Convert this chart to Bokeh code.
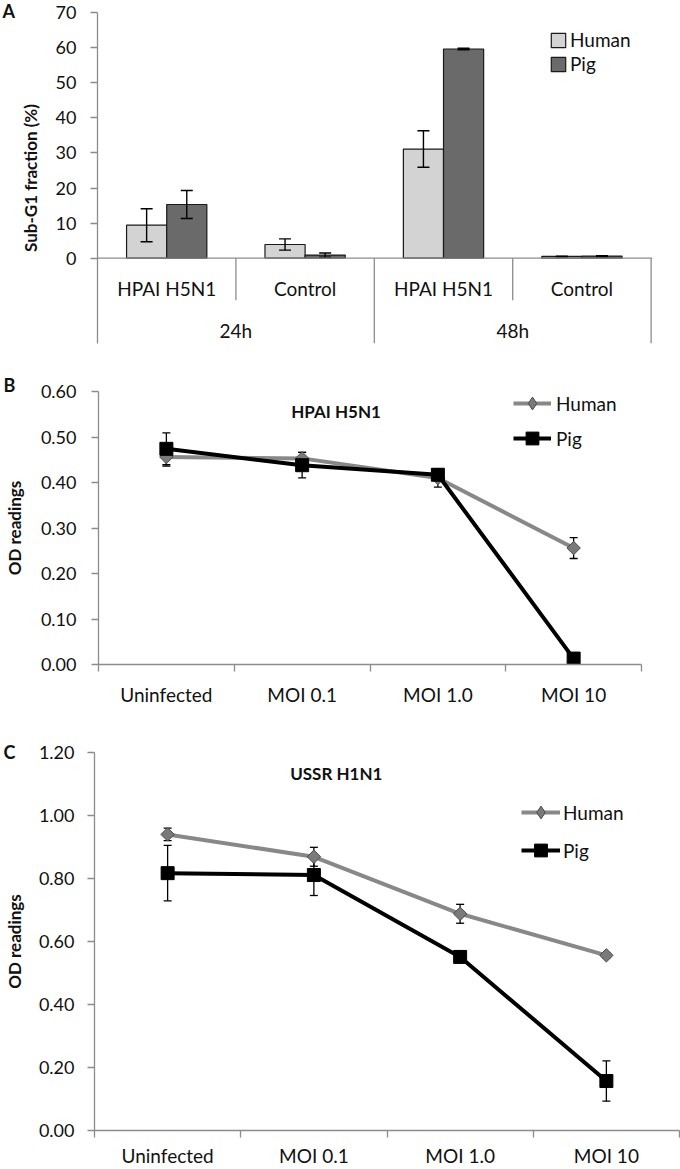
from bokeh.plotting import figure
from bokeh.models import (ColumnDataSource, Range1d, FixedTicker, Whisker, TeeHead, Label,
                          Legend, LegendItem, Span, NumeralTickFormatter)
from bokeh.layouts import column
from bokeh.embed import file_html
from bokeh.resources import INLINE
from bokeh.core.properties import value

FONT = "Lato"
TXT = "#111111"
AX = "#8c8c8c"

# ---------------- data ----------------
# Panel A: Sub-G1 fraction (%)
a_conditions = ["HPAI H5N1", "Control", "HPAI H5N1", "Control"]
a_times = ["24h", "48h"]
a_human = [9.4, 3.9, 31.1, 0.5]
a_human_err = [4.7, 1.6, 5.2, 0.1]
a_pig = [15.3, 0.9, 59.6, 0.6]
a_pig_err = [4.0, 0.6, 0.2, 0.1]
a_yticks = [0, 10, 20, 30, 40, 50, 60, 70]

# Panels B and C: OD readings
moi_labels = ["Uninfected", "MOI 0.1", "MOI 1.0", "MOI 10"]
b_human = [0.456, 0.453, 0.410, 0.256]
b_human_err = [0.020, 0.013, 0.020, 0.023]
b_pig = [0.474, 0.438, 0.417, 0.013]
b_pig_err = [0.035, 0.028, 0.010, 0.004]
b_yticks = [0.0, 0.1, 0.2, 0.3, 0.4, 0.5, 0.6]

c_human = [0.940, 0.869, 0.688, 0.556]
c_human_err = [0.020, 0.030, 0.030, 0.008]
c_pig = [0.817, 0.811, 0.551, 0.157]
c_pig_err = [0.088, 0.065, 0.006, 0.064]
c_yticks = [0.0, 0.2, 0.4, 0.6, 0.8, 1.0, 1.2]

HUMAN_BAR = "#d3d3d3"
PIG_BAR = "#6a6a6a"
HUMAN_LINE = "#888888"
HUMAN_MARK = "#7a7a7a"
PIG_LINE = "#000000"


def style_yaxis(ax, label, standoff_label):
    ax.axis_label = label
    ax.axis_label_text_font = FONT
    ax.axis_label_text_font_size = "17px"
    ax.axis_label_text_font_style = "bold"
    ax.axis_label_text_color = TXT
    ax.axis_label_standoff = standoff_label
    ax.major_label_text_font = FONT
    ax.major_label_text_font_size = "18px"
    ax.major_label_text_color = TXT
    ax.axis_line_color = AX
    ax.axis_line_width = 1.3
    ax.major_tick_line_color = AX
    ax.major_tick_line_width = 1.3
    ax.major_tick_out = 7
    ax.major_tick_in = 0
    ax.minor_tick_out = 0
    ax.minor_tick_in = 0


def base_fig(w, h, xr, yr, left, right, top, bottom, letter, letter_offset, letter_standoff,
             xaxis=True):
    kw = {}
    if not xaxis:
        kw["x_axis_location"] = None
    p = figure(width=w, height=h, x_range=xr, y_range=yr, output_backend="svg",
               toolbar_location=None, title=letter, frame_align=False,
               min_border_left=left, min_border_right=right,
               min_border_top=top, min_border_bottom=bottom, **kw)
    # panel letter as the plot title, pulled to the left edge
    p.title.align = "left"
    p.title.offset = letter_offset
    p.title.standoff = letter_standoff
    p.title.text_font = FONT
    p.title.text_font_size = "18px"
    p.title.text_font_style = "bold"
    p.title.text_color = TXT
    p.outline_line_color = None
    p.grid.visible = False
    p.background_fill_color = "white"
    p.border_fill_color = "white"
    return p


# ---------------- Panel A ----------------
na = len(a_conditions)
a_x = [i + 0.5 for i in range(na)]
bw = 0.29
a_bottom = -24.3
pa = base_fig(680, 369, Range1d(0, 4.01), Range1d(a_bottom, 70), 97, 28, 12, 26,
              "A", -95, -18, xaxis=False)

src_a = ColumnDataSource(dict(
    xh=[x - bw / 2 for x in a_x], xp=[x + bw / 2 for x in a_x],
    human=a_human, pig=a_pig,
    hu=[v + e for v, e in zip(a_human, a_human_err)], hl=[v - e for v, e in zip(a_human, a_human_err)],
    pu=[v + e for v, e in zip(a_pig, a_pig_err)], pl=[v - e for v, e in zip(a_pig, a_pig_err)],
))
rh = pa.vbar(x="xh", top="human", bottom=0, width=bw, source=src_a, fill_color=HUMAN_BAR,
             line_color="#1a1a1a", line_width=1.2)
rp = pa.vbar(x="xp", top="pig", bottom=0, width=bw, source=src_a, fill_color=PIG_BAR,
             line_color="#1a1a1a", line_width=1.2)
for base, up, lo in (("xh", "hu", "hl"), ("xp", "pu", "pl")):
    pa.add_layout(Whisker(base=base, upper=up, lower=lo, source=src_a, level="annotation",
                          line_color="black", line_width=1.4,
                          upper_head=TeeHead(size=12, line_width=1.4, line_color="black"),
                          lower_head=TeeHead(size=12, line_width=1.4, line_color="black")))

pa.add_layout(Span(location=0, dimension="width", line_color=AX, line_width=1.3))
bounds = list(range(1, na + 1))
pa.segment(x0=bounds, x1=bounds, y0=[0] * len(bounds),
           y1=[a_bottom if b % 2 == 0 else -12.0 for b in bounds], line_color=AX, line_width=1.3)
pa.text(x=a_x, y=[-8.6] * na, text=a_conditions, text_font=value(FONT), text_font_size="19px",
        text_color=TXT, text_align="center", text_baseline="middle")
pa.text(x=[2 * i + 1 for i in range(len(a_times))], y=[-20.6] * len(a_times), text=a_times,
        text_font=value(FONT), text_font_size="19px", text_color=TXT,
        text_align="center", text_baseline="middle")

pa.yaxis.ticker = FixedTicker(ticks=a_yticks, minor_ticks=[])
style_yaxis(pa.yaxis[0], "Sub-G1 fraction (%)", 12)
pa.yaxis.major_label_standoff = 14

leg_a = Legend(items=[LegendItem(label="Human", renderers=[rh]), LegendItem(label="Pig", renderers=[rp])],
               location=(452, 268), glyph_width=18, glyph_height=18, label_height=18, spacing=1,
               label_standoff=3, padding=0, margin=0, border_line_color=None,
               background_fill_alpha=0, label_text_font=FONT, label_text_font_size="19px",
               label_text_color=TXT)
pa.add_layout(leg_a)


# ---------------- Panels B and C ----------------
def line_panel(h, yr, yticks, left, right, top, bottom, human, herr, pig, perr,
               title, title_xy, letter, letter_offset, letter_standoff, leg_loc, leg_gw,
               leg_sp, leg_so, label_standoff, axis_label_standoff, tick_standoff):
    n = len(moi_labels)
    xs = [i + 0.5 for i in range(n)]
    p = base_fig(680, h, Range1d(0, n), yr, left, right, top, bottom,
                 letter, letter_offset, letter_standoff)
    src = ColumnDataSource(dict(
        x=xs, human=human, pig=pig,
        hu=[v + e for v, e in zip(human, herr)], hl=[v - e for v, e in zip(human, herr)],
        pu=[v + e for v, e in zip(pig, perr)], pl=[v - e for v, e in zip(pig, perr)],
    ))
    for up, lo in (("hu", "hl"), ("pu", "pl")):
        p.add_layout(Whisker(base="x", upper=up, lower=lo, source=src, level="underlay",
                             line_color="black", line_width=1.3,
                             upper_head=TeeHead(size=8, line_width=1.3, line_color="black"),
                             lower_head=TeeHead(size=8, line_width=1.3, line_color="black")))
    hl_ = p.line("x", "human", source=src, line_color=HUMAN_LINE, line_width=4)
    p.scatter("x", "human", source=src, marker="square", angle=0.7854, size=9.5,
              fill_color=HUMAN_MARK, line_color="#4a4a4a", line_width=1)
    # zero-size diamond renderer that only supplies the legend swatch
    # (legend glyphs ignore rotation, so the rotated square cannot be used there)
    hm_leg = p.scatter("x", "human", source=src, marker="diamond", size=0,
                       fill_color=HUMAN_MARK, line_color="#4a4a4a", line_width=1)
    pl_ = p.line("x", "pig", source=src, line_color=PIG_LINE, line_width=4)
    pm = p.scatter("x", "pig", source=src, marker="square", size=13, fill_color="black",
                   line_color="black")

    xa = p.xaxis[0]
    xa.ticker = FixedTicker(ticks=xs, minor_ticks=list(range(n + 1)))
    xa.major_label_overrides = {x: lab for x, lab in zip(xs, moi_labels)}
    xa.major_label_text_font = FONT
    xa.major_label_text_font_size = "19px"
    xa.major_label_text_color = TXT
    xa.major_label_standoff = label_standoff
    xa.axis_line_color = AX
    xa.axis_line_width = 1.3
    xa.major_tick_out = 0
    xa.major_tick_in = 0
    xa.minor_tick_out = 7
    xa.minor_tick_in = 0
    xa.minor_tick_line_color = AX
    xa.minor_tick_line_width = 1.3

    p.yaxis.ticker = FixedTicker(ticks=yticks, minor_ticks=[])
    p.yaxis.formatter = NumeralTickFormatter(format="0.00")
    style_yaxis(p.yaxis[0], "OD readings", axis_label_standoff)
    p.yaxis.major_label_standoff = tick_standoff

    p.add_layout(Label(x=title_xy[0], y=title_xy[1], text=title, text_font=FONT,
                       text_font_size="17px", text_font_style="bold", text_color=TXT,
                       text_align="center", text_baseline="middle"))

    leg = Legend(items=[LegendItem(label="Human", renderers=[hl_, hm_leg]),
                        LegendItem(label="Pig", renderers=[pl_, pm])],
                 location=leg_loc, glyph_width=leg_gw, glyph_height=32, label_height=32,
                 spacing=leg_sp, label_standoff=leg_so, padding=0, margin=0,
                 border_line_color=None, background_fill_alpha=0, label_text_font=FONT,
                 label_text_font_size="19px", label_text_color=TXT)
    p.add_layout(leg)
    return p


pb = line_panel(346, Range1d(0, 0.6), b_yticks, 95, 39, 22, 51,
                b_human, b_human_err, b_pig, b_pig_err,
                "HPAI H5N1", (1.75, 0.556), "B", -95, -8, (415, 210), 38, 3, 5,
                11, 13, 15)

pc = line_panel(454, Range1d(0, 1.2), c_yticks, 91, 1, 37, 39,
                c_human, c_human_err, c_pig, c_pig_err,
                "USSR H1N1", (1.653, 1.133), "C", -91, -20, (427, 264), 39, 6, 3,
                6, 11, 13)

layout = column(pa, pb, pc)
open("out.html", "w").write(file_html(layout, INLINE))
